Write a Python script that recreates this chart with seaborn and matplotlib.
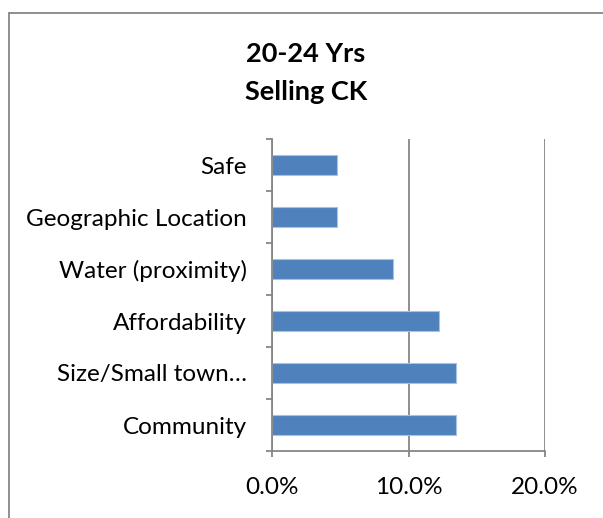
import matplotlib
matplotlib.use("Agg")
import matplotlib.pyplot as plt
import seaborn as sns
import pandas as pd
from matplotlib.ticker import PercentFormatter, FixedLocator
from matplotlib.lines import Line2D

categories = ["Safe", "Geographic Location", "Water (proximity)", "Affordability",
              "Size/Small town\u2026", "Community"]
values = [0.0476, 0.0476, 0.089, 0.122, 0.135, 0.135]
xticks = [0.0, 0.10, 0.20]
title_lines = ["20-24 Yrs", "Selling CK"]

df = pd.DataFrame({"category": categories, "value": values})

sns.set_theme(style="white")
plt.rcParams["font.family"] = ["Lato", "DejaVu Sans"]

W, H = 603, 518
fig = plt.figure(figsize=(W / 100, H / 100), dpi=100)
ax = fig.add_axes([272 / W, 1 - 451 / H, (545 - 272) / W, (451 - 139) / H])

sns.barplot(data=df, x="value", y="category", orient="h", order=categories,
            color="#4F81BD", saturation=1, width=0.4, ax=ax,
            edgecolor="#A9C2E0", linewidth=0.8)

gray = "#868686"
ax.set_xlim(0, 0.20)
ax.set_ylim(len(categories) - 0.5, -0.5)
ax.set_xticks(xticks)
ax.xaxis.set_major_formatter(PercentFormatter(xmax=1, decimals=1))
ax.grid(axis="x", color=gray, linewidth=1.3)
ax.set_axisbelow(True)
for s in ["top", "right"]:
    ax.spines[s].set_visible(False)
for s in ["left", "bottom"]:
    ax.spines[s].set_color(gray)
    ax.spines[s].set_linewidth(1.3)
ax.set_xlabel("")
ax.set_ylabel("")

ax.yaxis.set_minor_locator(FixedLocator([i - 0.5 for i in range(len(categories) + 1)]))
ax.tick_params(axis="y", which="major", length=0, pad=18, labelsize=17.5, labelcolor="black")
ax.tick_params(axis="y", which="minor", left=True, length=4.5, width=1.3, color=gray, direction="out")
ax.tick_params(axis="x", which="major", bottom=True, length=4, width=1.3, color=gray,
               direction="out", pad=15, labelsize=17.5, labelcolor="black")

fig.text(306 / W, 1 - 61.5 / H, title_lines[0], ha="center", va="baseline",
         fontsize=19.5, fontweight="bold", color="black")
fig.text(306 / W, 1 - 100.5 / H, title_lines[1], ha="center", va="baseline",
         fontsize=19.5, fontweight="bold", color="black")

# outer chart frame (only left and top edges visible in the crop)
fig.add_artist(Line2D([8.5 / W, 8.5 / W], [0, 1 - 12.5 / H], transform=fig.transFigure,
                      color=gray, linewidth=1.3))
fig.add_artist(Line2D([8.5 / W, 1], [1 - 12.5 / H, 1 - 12.5 / H], transform=fig.transFigure,
                      color=gray, linewidth=1.3))

fig.savefig("out.png", dpi=100, facecolor="white")
